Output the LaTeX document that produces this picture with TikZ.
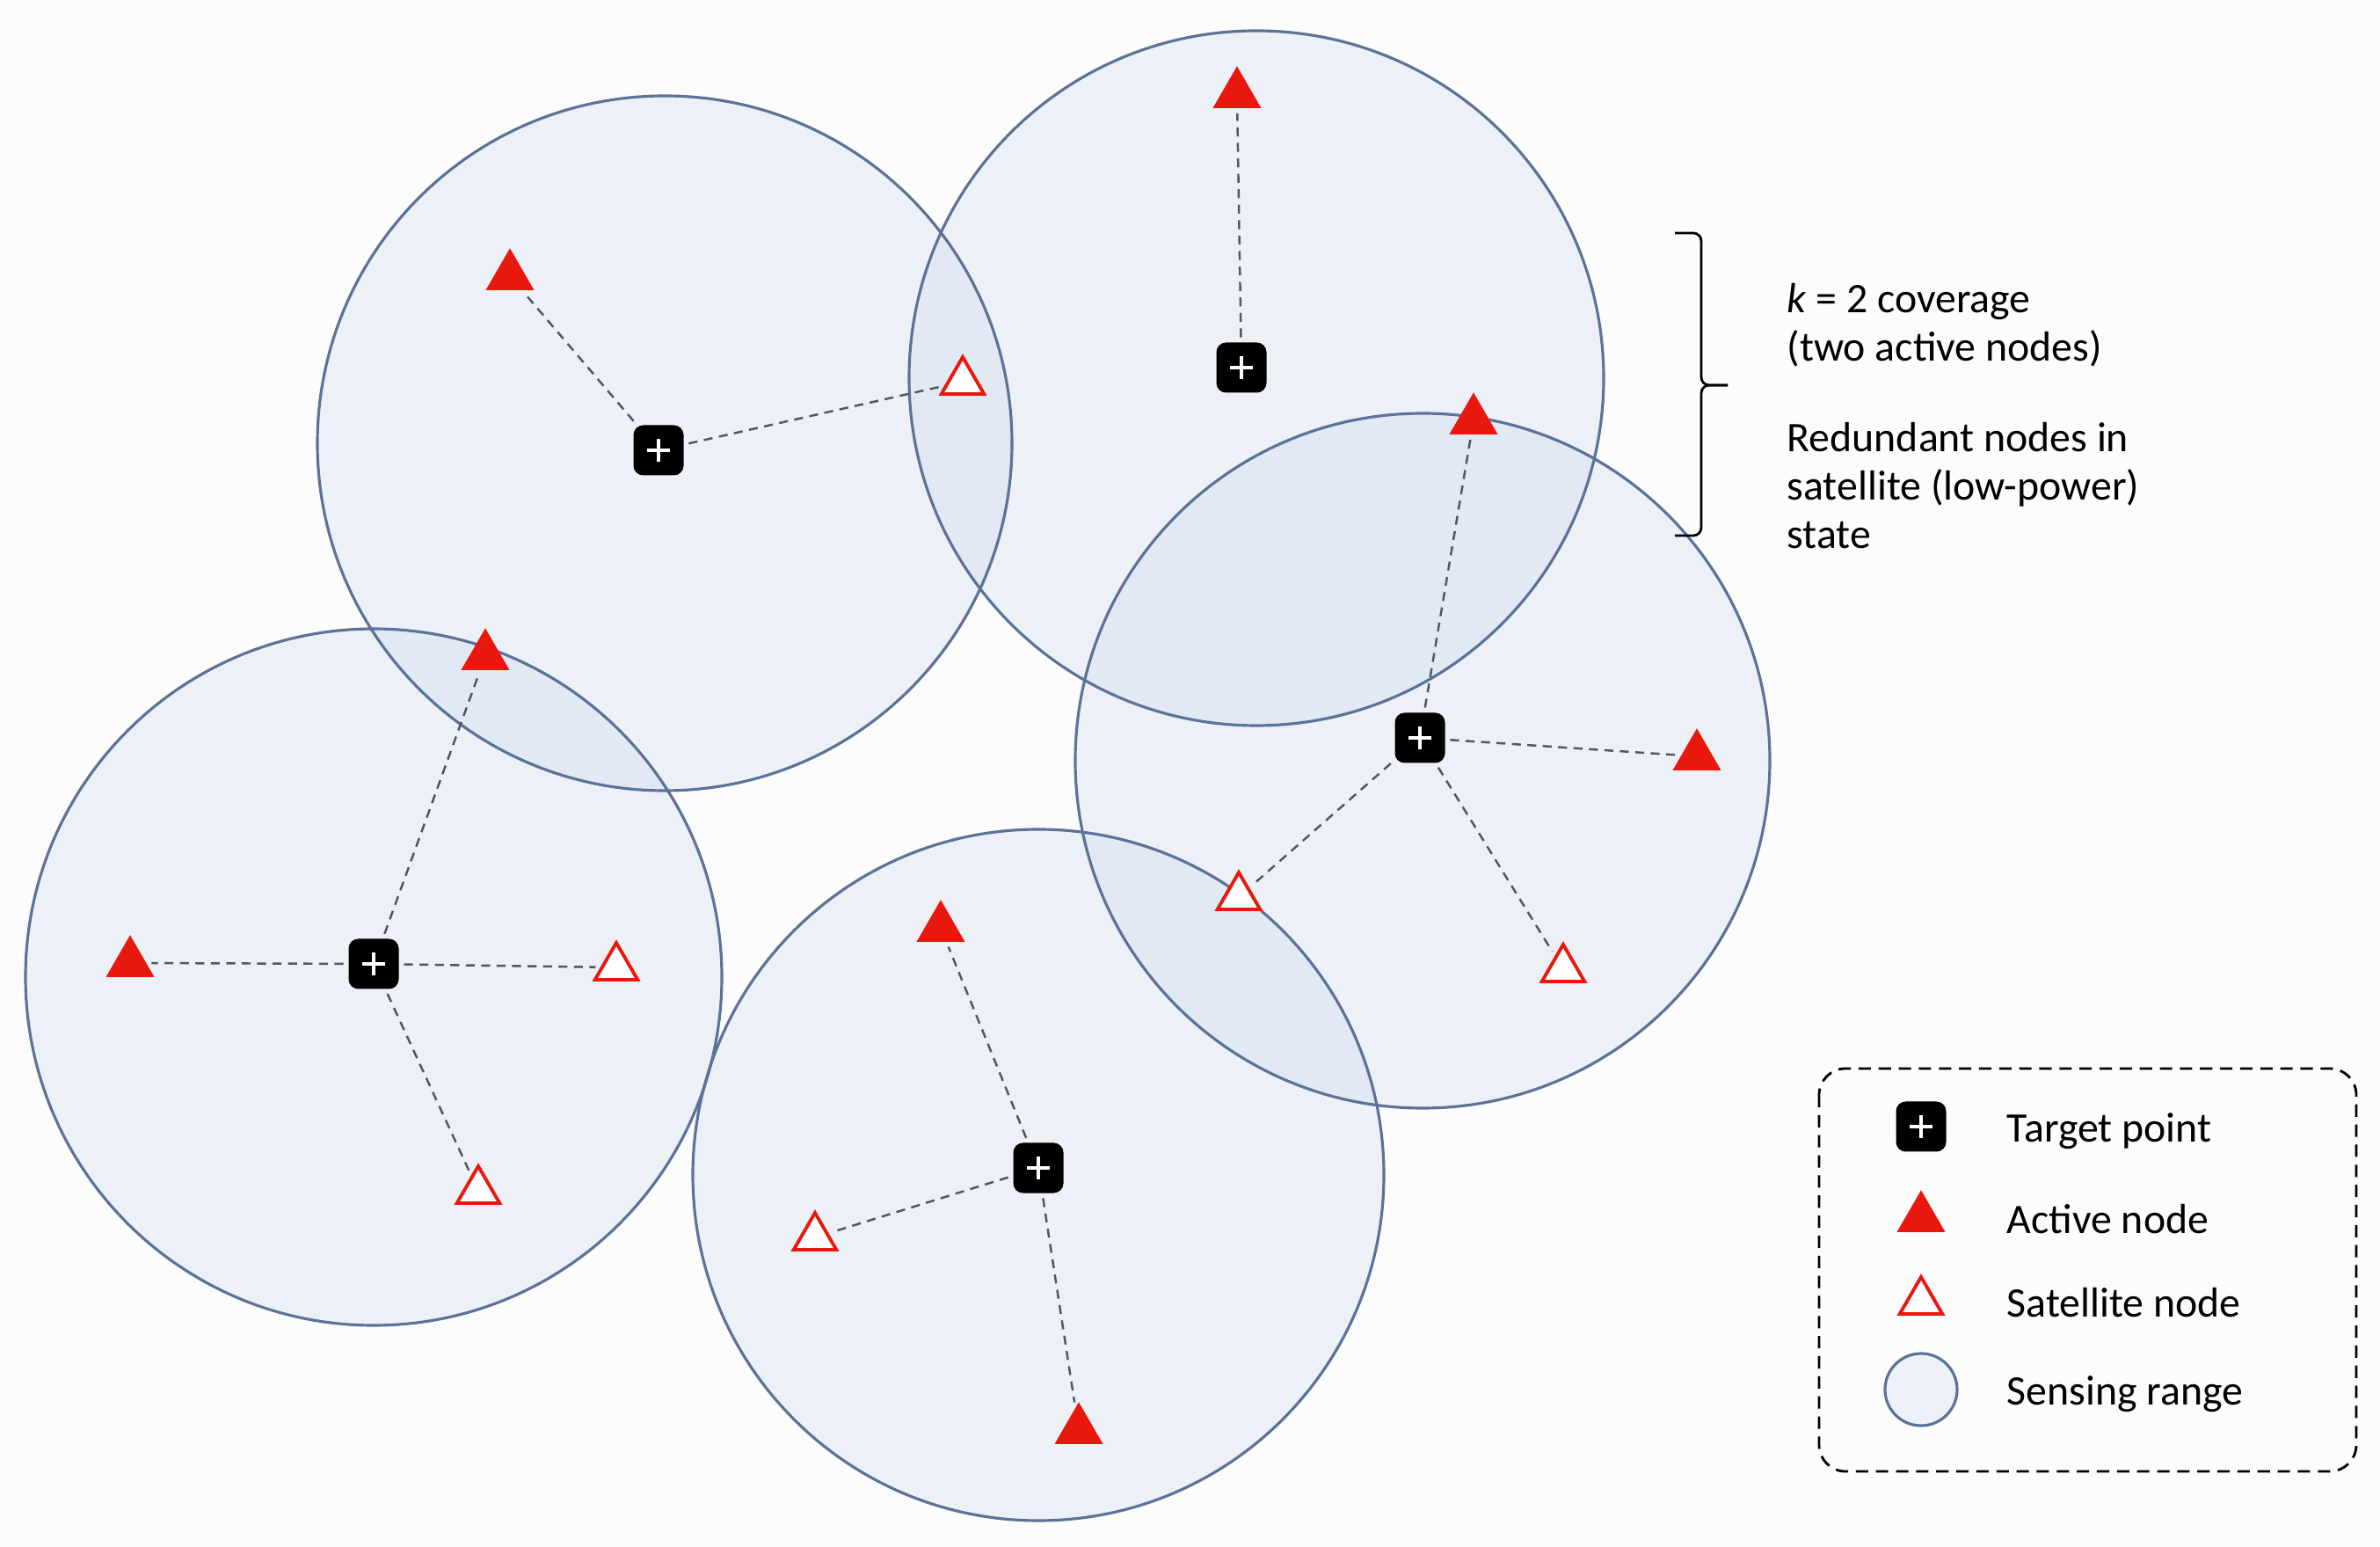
\documentclass[tikz,border=0pt]{standalone}
\usepackage{fontspec}
\setmainfont{Carlito}
\usepackage{tikz}
\usetikzlibrary{shapes.geometric,positioning}
\definecolor{rangeline}{RGB}{92,114,152}
\definecolor{rangefill}{RGB}{196,212,236}
\definecolor{nodered}{RGB}{232,24,14}
\definecolor{linkgray}{RGB}{80,86,98}
\definecolor{paper}{RGB}{252,252,252}
\tikzset{
	coverage map/.style={
		font=\fontsize{13.6}{15.6}\selectfont,
		target/.style={fill=black, rounded corners=1.1mm, minimum size=5.7mm, inner sep=0pt,
			path picture={\draw[white, line width=1.4pt]
				(path picture bounding box.center) +(-1.3mm,0) -- +(1.3mm,0)
				(path picture bounding box.center) +(0,-1.3mm) -- +(0,1.3mm);}},
		active/.style={regular polygon, regular polygon sides=3, fill=nodered,
			minimum size=6.35mm, inner sep=0pt},
		satellite/.style={regular polygon, regular polygon sides=3, draw=nodered, fill=white,
			line width=1.1pt, minimum size=5.6mm, inner sep=0pt},
		rangeedge/.style={draw=rangeline, line width=.9pt},
		rangeshade/.style={fill=rangefill, fill opacity=.25},
		link/.style={draw=linkgray, line width=.7pt, dash pattern=on 2.9pt off 2.1pt,
			shorten <=1.5pt, shorten >=1.5pt},
		note/.style={anchor=north west, align=left, inner sep=0pt},
		key/.style={inner sep=0pt, node distance=.97cm, text height=12pt, text depth=1.8pt}
	},
	bracket/.style={line width=.8pt, rounded corners=.9mm}
}

\begin{document}
\begin{tikzpicture}[coverage map]
   \fill[paper] (0,0) rectangle (27.07,-17.59);
   % sensing ranges, shading first and outlines on top
   \foreach \x/\y/\r in {7.56/-5.04/3.95, 14.29/-4.30/3.95, 16.18/-8.65/3.95,
         4.25/-11.11/3.96, 11.81/-13.36/3.93}
      \fill[rangeshade] (\x,\y) circle (\r);
   \foreach \x/\y/\r in {7.56/-5.04/3.95, 14.29/-4.30/3.95, 16.18/-8.65/3.95,
         4.25/-11.11/3.96, 11.81/-13.36/3.93}
      \draw[rangeedge] (\x,\y) circle (\r);
   % target points
   \node[target] (t1) at (7.49,-5.12) {};
   \node[target] (t2) at (14.12,-4.18) {};
   \node[target] (t3) at (16.15,-8.39) {};
   \node[target] (t4) at (4.25,-10.96) {};
   \node[target] (t5) at (11.81,-13.28) {};
   % active nodes
   \node[active] (a1) at (5.80,-3.14) {};
   \node[active] (a2) at (14.07,-1.07) {};
   \node[active] (a3) at (16.76,-4.78) {};
   \node[active] (a4) at (5.52,-7.46) {};
   \node[active] (a5) at (1.48,-10.95) {};
   \node[active] (a6) at (19.30,-8.60) {};
   \node[active] (a7) at (10.70,-10.55) {};
   \node[active] (a8) at (12.27,-16.26) {};
   % satellite nodes
   \node[satellite] (s1) at (10.95,-4.34) {};
   \node[satellite] (s2) at (7.01,-11.00) {};
   \node[satellite] (s3) at (5.44,-13.54) {};
   \node[satellite] (s4) at (14.09,-10.20) {};
   \node[satellite] (s5) at (17.78,-11.02) {};
   \node[satellite] (s6) at (9.27,-14.07) {};
   \foreach \u/\v in {t1/a1, t1/s1, t2/a2, t3/a3, t3/a6, t3/s4, t3/s5,
         t4/a4, t4/a5, t4/s2, t4/s3, t5/a7, t5/s6, t5/a8}
      \draw[link] (\u) -- (\v);
   % k = 2 note
   \coordinate (btop) at (19.05,-2.65);
   \coordinate (bmid) at (19.35,-4.38);
   \coordinate (btip) at (19.65,-4.38);
   \coordinate (bbot) at (19.05,-6.09);
   \draw[bracket] (btop) -| (bmid) -- (btip);
   \draw[bracket] (btip) -- (bmid) |- (bbot);
   \node[note] (kcov) at (20.32,-3.22) {\textit{k} = 2 coverage\\(two active nodes)};
   \node[note, below=.62 of kcov.south west, anchor=north west] (redund)
      {Redundant nodes in\\satellite (low-power)\\state};
   % legend
   \draw[dash pattern=on 4pt off 2.5pt, line width=.8pt, rounded corners=3mm]
      (20.69,-12.15) rectangle (26.80,-16.73);
   \node[target] (ktarget) at (21.85,-12.81) {};
   \node[active] (kactive) at (21.85,-13.85) {};
   \node[satellite] (ksat) at (21.85,-14.80) {};
   \node[circle, rangeedge, rangeshade, minimum size=8.2mm, inner sep=0pt] (krange) at (21.85,-15.80) {};
   \node[key, right=of ktarget.center] {Target point};
   \node[key, right=of kactive.center] {Active node};
   \node[key, right=of ksat.center] {Satellite node};
   \node[key, right=of krange.center] {Sensing range};
\end{tikzpicture}
\end{document}
